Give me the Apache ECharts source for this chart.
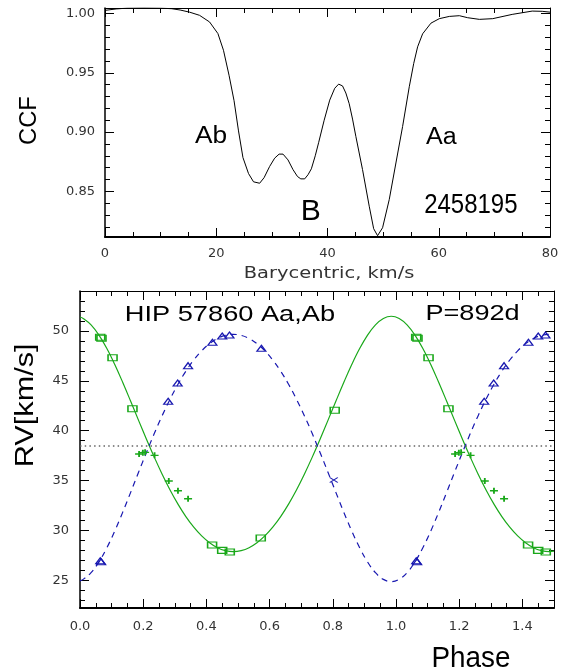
<!DOCTYPE html>
<html>
<head>
<meta charset="utf-8">
<script src="https://cdn.jsdelivr.net/npm/echarts@6/dist/echarts.min.js"></script>
<style>
  html, body { margin: 0; padding: 0; background: #fff; }
  #chart { width: 566px; height: 669px; }
</style>
</head>
<body>
<div id="chart"></div>
<script>
// ---- Cross-correlation function, JD 2458195 ----
const ccfVelocity = [0, 2, 4, 7, 10, 12, 13.5, 15.2, 17.0, 18.8,
  20.3, 21.3, 22.3, 23.2, 24.0, 24.8, 25.8, 26.7, 27.8, 28.6,
  29.6, 30.5, 31.3, 32.0, 32.9, 33.8, 34.6, 35.2, 35.9, 36.5,
  37.1, 37.8, 38.4, 39.4, 40.4, 41.3, 42.0, 42.7, 43.3, 43.9,
  44.5, 45.1, 46.3, 47.5, 48.3, 49.0, 49.9, 51.1, 52.3, 53.5,
  54.7, 55.5, 56.2, 57.1, 58.6, 60.1, 61.9, 63.7, 65.2, 67.3,
  69.7, 73.2, 76.8, 78.6, 80];
const ccfValue = [1.0028, 1.0040, 1.0047, 1.0049, 1.0047, 1.0042, 1.0031, 1.0013, 0.9986, 0.9930,
  0.9832, 0.9691, 0.9480, 0.9265, 0.9010, 0.8785, 0.8650, 0.8580, 0.8568, 0.8615,
  0.8710, 0.8780, 0.8814, 0.8814, 0.8765, 0.8683, 0.8625, 0.8605, 0.8605, 0.8640,
  0.8690, 0.8800, 0.8910, 0.9100, 0.9270, 0.9370, 0.9405, 0.9390, 0.9330, 0.9240,
  0.9110, 0.8963, 0.8683, 0.8374, 0.8184, 0.8125, 0.8192, 0.8430, 0.8739, 0.9047,
  0.9383, 0.9580, 0.9720, 0.9830, 0.9920, 0.9958, 0.9977, 0.9983, 0.9966, 0.9952,
  0.9958, 0.9994, 1.0022, 1.0020, 1.0013];
const velTicks = [0, 20, 40, 60, 80];
const ccfTicks = [0.85, 0.90, 0.95, 1.00];

// ---- Radial velocity curve of HIP 57860 Aa,Ab (P = 892 d) ----
const phaseTicks = [0, 0.2, 0.4, 0.6, 0.8, 1.0, 1.2, 1.4];
const rvTicks = [25, 30, 35, 40, 45, 50];
const gammaRV = 38.5;

// orbital solution sampled in phase (samples fall on the extrema at 0.485 and 0.985)
const orbitPhase = [0,
  0.010, 0.035, 0.060, 0.085, 0.110, 0.135, 0.160, 0.185, 0.210, 0.235,
  0.260, 0.285, 0.310, 0.335, 0.360, 0.385, 0.410, 0.435, 0.460, 0.485,
  0.510, 0.535, 0.560, 0.585, 0.610, 0.635, 0.660, 0.685, 0.710, 0.735,
  0.760, 0.785, 0.810, 0.835, 0.860, 0.885, 0.910, 0.935, 0.960, 0.985,
  1.010, 1.035, 1.060, 1.085, 1.110, 1.135, 1.160, 1.185, 1.210, 1.235,
  1.260, 1.285, 1.310, 1.335, 1.360, 1.385, 1.410, 1.435, 1.460, 1.485,
  1.5];
const orbitAa = [51.40,
  51.26, 50.62, 49.59, 48.24, 46.64, 44.86, 42.98, 41.06, 39.17, 37.35,
  35.64, 34.06, 32.64, 31.39, 30.33, 29.45, 28.77, 28.27, 27.98, 27.88,
  27.98, 28.27, 28.77, 29.45, 30.33, 31.39, 32.64, 34.06, 35.64, 37.35,
  39.17, 41.06, 42.98, 44.86, 46.64, 48.24, 49.59, 50.62, 51.26, 51.48,
  51.26, 50.62, 49.59, 48.24, 46.64, 44.86, 42.98, 41.06, 39.17, 37.35,
  35.64, 34.06, 32.64, 31.39, 30.33, 29.45, 28.77, 28.27, 27.98, 27.88,
  27.92];
const orbitAb = [24.94,
  25.09, 25.76, 26.84, 28.26, 29.94, 31.81, 33.79, 35.81, 37.79, 39.71,
  41.51, 43.16, 44.66, 45.97, 47.09, 48.01, 48.73, 49.25, 49.56, 49.66,
  49.56, 49.25, 48.73, 48.01, 47.09, 45.97, 44.66, 43.16, 41.51, 39.71,
  37.79, 35.81, 33.79, 31.81, 29.94, 28.26, 26.84, 25.76, 25.09, 24.86,
  25.09, 25.76, 26.84, 28.26, 29.94, 31.81, 33.79, 35.81, 37.79, 39.71,
  41.51, 43.16, 44.66, 45.97, 47.09, 48.01, 48.73, 49.25, 49.56, 49.66,
  49.62];

// measured velocities
const aaPhase = [0.064, 0.068, 0.103, 0.166, 0.418, 0.450, 0.474, 0.572, 0.806];
const aaRV = [49.38, 49.28, 47.32, 42.21, 28.54, 28.00, 27.83, 29.24, 42.05];
const abPhase = [0.064, 0.067, 0.279, 0.309, 0.342, 0.419, 0.450, 0.473, 0.574];
const abRV = [26.95, 26.85, 42.95, 44.78, 46.52, 48.87, 49.50, 49.60, 48.26];
const abLowPhase = [0.803];
const abLowRV = [35.06];
const bPhase = [0.187, 0.199, 0.206, 0.236, 0.281, 0.310, 0.342];
const bRV = [37.66, 37.80, 37.83, 37.53, 34.95, 33.98, 33.18];

// ---- helpers ----
const PHASE_MAX = 1.5;
const GREEN = '#1aa81a';
const BLUE = '#1818b0';

function pairs(xs, ys) { return xs.map((x, i) => [x, ys[i]]); }
// each measurement is shown once more one cycle later while inside the plotted phase range
function folded(xs, ys) {
  const pts = pairs(xs, ys);
  xs.forEach((x, i) => { if (x + 1 <= PHASE_MAX) pts.push([x + 1, ys[i]]); });
  return pts;
}
function minorTicks(lo, hi, step, majorStep) {
  const out = [];
  for (let k = Math.ceil(lo / step - 1e-9); k * step <= hi + 1e-9; k++) {
    const v = +(k * step).toFixed(6);
    const r = v / majorStep;
    if (Math.abs(r - Math.round(r)) > 1e-6) out.push(v);
  }
  return out;
}

const labelFont = { fontFamily: '"DejaVu Sans", sans-serif', fontSize: 13, color: '#333' };

// four axes per dimension: labelled side (major + minor ticks) and mirrored side (major + minor ticks)
function axisSet(gridIndex, min, max, majors, minors, mainPos, oppPos, label, mainW, oppW) {
  const mk = (pos, ticks, len, lineW, withLabel) => ({
    type: 'value', gridIndex, min, max, position: pos,
    splitLine: { show: false },
    axisLine: { show: lineW > 0, onZero: false, lineStyle: { color: '#000', width: lineW || 1 } },
    axisTick: { show: true, inside: true, length: len, customValues: ticks, lineStyle: { color: '#000', width: 1 } },
    axisLabel: withLabel ? Object.assign({ show: true, customValues: majors }, labelFont, label) : { show: false }
  });
  return [
    mk(mainPos, majors, 9, mainW, true),
    mk(mainPos, minors, 5, 0, false),
    mk(oppPos, majors, 9, oppW, false),
    mk(oppPos, minors, 5, 0, false)
  ];
}

// text fitted to a given ink box (cap height and extent along the baseline)
const mctx = document.createElement('canvas').getContext('2d');
function fitText(str, family, color, inkStart, inkEnd, capTop, baseline, vertical) {
  mctx.textAlign = 'left';
  mctx.textBaseline = 'alphabetic';
  mctx.font = '100px ' + family;
  const capRef = mctx.measureText('H').actualBoundingBoxAscent;
  const size = 100 * Math.abs(baseline - capTop) / capRef;
  const font = size.toFixed(2) + 'px ' + family;
  mctx.font = font;
  const m = mctx.measureText(str);
  const sx = Math.abs(inkEnd - inkStart) / (m.actualBoundingBoxLeft + m.actualBoundingBoxRight);
  mctx.textBaseline = 'middle';
  const baseOff = mctx.measureText('H').actualBoundingBoxDescent;
  const lead = m.actualBoundingBoxLeft * sx;
  const el = {
    type: 'text', silent: true, scaleX: sx, z: 10,
    style: { text: str, font: font, fill: color, align: 'left', verticalAlign: 'middle',
             textAlign: 'left', textVerticalAlign: 'middle' }
  };
  if (vertical) {
    el.rotation = Math.PI / 2;
    el.x = baseline - baseOff;
    el.y = inkStart - lead;
  } else {
    el.x = inkStart + lead;
    el.y = baseline - baseOff;
  }
  return el;
}

const SANS = '"Liberation Sans", Arial, sans-serif';
const THIN = '"DejaVu Sans", sans-serif';

const xAxes = [].concat(
  axisSet(0, 0, 80, velTicks, minorTicks(0, 80, 5, 20), 'bottom', 'top',
    { margin: 10, formatter: v => String(v) }, 2, 1),
  axisSet(1, 0, PHASE_MAX, phaseTicks, minorTicks(0, 1.45, 0.05, 0.2), 'bottom', 'top',
    { margin: 12, formatter: v => v.toFixed(1) }, 2, 1)
);
const yAxes = [].concat(
  axisSet(0, 0.8114, 1.0048, ccfTicks, minorTicks(0.8114, 1.0048, 0.01, 0.05), 'left', 'right',
    { margin: 10, formatter: v => v.toFixed(2) }, 1.5, 1),
  axisSet(1, 22.22, 54.01, rvTicks, minorTicks(22.22, 54.01, 1, 5), 'left', 'right',
    { margin: 11, formatter: v => String(v) }, 1.5, 1)
);

const pathRect = 'path://M0,0L10,0L10,10L0,10Z';
const pathTri = 'path://M5,0L10,10L0,10Z';
const pathPlus = 'path://M0,5L10,5M5,0L5,10';
const pathCross = 'path://M0,0L10,10M10,0L0,10';

function markers(name, data, symbol, size, color, width) {
  return {
    name, type: 'scatter', xAxisIndex: 4, yAxisIndex: 4, data,
    symbol, symbolSize: size, silent: true, z: 5,
    itemStyle: { color: 'rgba(0,0,0,0)', borderColor: color, borderWidth: width, opacity: 1 },
    emphasis: { disabled: true }
  };
}

const chart = echarts.init(document.getElementById('chart'), null, { renderer: 'canvas' });
chart.setOption({
  animation: false,
  backgroundColor: '#fff',
  grid: [
    { left: 105, top: 8, width: 445, height: 229 },
    { left: 80, top: 291, width: 474, height: 317 }
  ],
  xAxis: xAxes,
  yAxis: yAxes,
  series: [
    {
      name: 'CCF', type: 'line', xAxisIndex: 0, yAxisIndex: 0,
      data: pairs(ccfVelocity, ccfValue), symbol: 'none', silent: true,
      lineStyle: { color: '#000', width: 1 }
    },
    {
      name: 'Aa orbit', type: 'line', xAxisIndex: 4, yAxisIndex: 4,
      data: pairs(orbitPhase, orbitAa), symbol: 'none', smooth: 0.4, silent: true,
      lineStyle: { color: GREEN, width: 1.2 },
      markLine: {
        silent: true, symbol: ['none', 'none'], label: { show: false },
        lineStyle: { type: [1.5, 3.2], color: '#666', width: 1.5 },
        data: [{ yAxis: gammaRV }]
      }
    },
    {
      name: 'Ab orbit', type: 'line', xAxisIndex: 4, yAxisIndex: 4,
      data: pairs(orbitPhase, orbitAb), symbol: 'none', smooth: 0.4, silent: true,
      lineStyle: { color: BLUE, width: 1.2, type: [6, 5] }
    },
    markers('Aa', folded(aaPhase, aaRV), pathRect, [9, 6], GREEN, 1.3),
    markers('Ab', folded(abPhase, abRV), pathTri, [9, 6], BLUE, 1.2),
    markers('Ab low weight', folded(abLowPhase, abLowRV), pathCross, [8, 5], BLUE, 1.2),
    markers('B', folded(bPhase, bRV), pathPlus, [8, 6], GREEN, 1.6)
  ],
  graphic: [
    fitText('CCF', SANS, '#000', 144, 96.7, 19.3, 35.7, true),
    fitText('Barycentric, km/s', THIN, '#333', 245, 414, 266.7, 278.3, false),
    fitText('Ab', SANS, '#000', 195, 226.7, 126.7, 143.3, false),
    fitText('B', SANS, '#000', 302.7, 319.3, 200, 220, false),
    fitText('Aa', SANS, '#000', 426, 457, 126.5, 143.5, false),
    fitText('2458195', SANS, '#000', 425, 517.3, 194.3, 213.3, false),
    fitText('RV[km/s]', SANS, '#000', 465, 345, 15, 33.3, true),
    fitText('HIP 57860 Aa,Ab', SANS, '#000', 126, 334.3, 305, 320.7, false),
    fitText('P=892d', SANS, '#000', 426.7, 518.3, 305, 320, false),
    fitText('Phase', SANS, '#000', 433.3, 509.3, 646.7, 666.7, false)
  ]
});
</script>
</body>
</html>
